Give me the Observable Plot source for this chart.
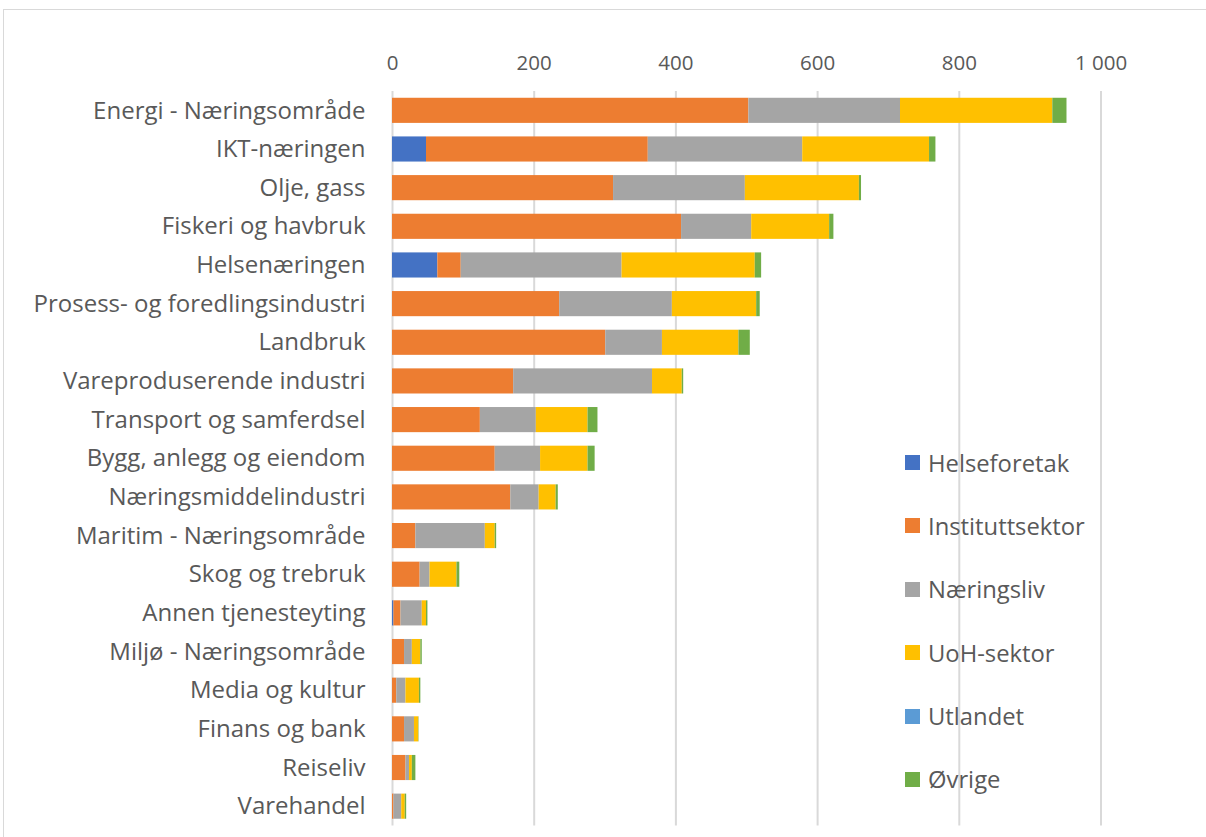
<!DOCTYPE html>
<html>
<head>
<meta charset="utf-8">
<script src="https://cdn.jsdelivr.net/npm/d3@7"></script>
<script src="https://cdn.jsdelivr.net/npm/@observablehq/plot@0.6"></script>
<style>
  html, body { margin: 0; padding: 0; background: #fff; }
  #wrap { position: relative; width: 1206px; height: 837px; overflow: hidden; }
  #frame { position: absolute; left: 3px; top: 9px; width: 1220px; height: 840px; border: 1px solid #d9d9d9; box-sizing: border-box; pointer-events: none; }
  #legend { position: absolute; left: 905px; top: 444.5px; font-family: "Open Sans", Lato, sans-serif; font-size: 23.8px; color: #595959; }
  #legend .item { display: flex; align-items: center; height: 36px; margin-bottom: 27.4px; }
  #legend .sw { width: 15px; height: 15px; margin-right: 8px; flex: none; }
</style>
</head>
<body>
<div id="wrap">
  <div id="chart"></div>
  <div id="legend"></div>
  <div id="frame"></div>
</div>
<script>
const categories = [
  "Energi - Næringsområde", "IKT-næringen", "Olje, gass", "Fiskeri og havbruk",
  "Helsenæringen", "Prosess- og foredlingsindustri", "Landbruk",
  "Vareproduserende industri", "Transport og samferdsel", "Bygg, anlegg og eiendom",
  "Næringsmiddelindustri", "Maritim - Næringsområde", "Skog og trebruk",
  "Annen tjenesteyting", "Miljø - Næringsområde", "Media og kultur",
  "Finans og bank", "Reiseliv", "Varehandel"
];
const seriesNames = ["Helseforetak", "Instituttsektor", "Næringsliv", "UoH-sektor", "Utlandet", "Øvrige"];
const seriesColors = ["#4472C4", "#ED7D31", "#A5A5A5", "#FFC000", "#5B9BD5", "#70AD47"];

const helseforetak    = [0, 48, 0, 0, 64, 0, 0, 0, 0, 0, 0, 0, 0, 2, 0, 0, 0, 0, 0];
const instituttsektor = [503, 313, 312, 408, 33, 236, 301, 171, 124, 145, 167, 33, 39, 10, 17, 6, 17, 19, 2];
const naeringsliv     = [214, 218, 186, 99, 227, 159, 80, 196, 79, 64, 40, 98, 14, 30, 11, 13, 14, 5, 11];
const uohSektor       = [215, 179, 161, 110, 188, 119, 108, 42, 73, 67, 24, 14, 38, 6, 12, 19, 6, 4, 5];
const utlandet        = [0, 0, 0, 0, 0, 0, 0, 0, 0, 0, 0, 0, 0, 0, 0, 0, 0, 0, 0];
const ovrige          = [20, 9, 3, 6, 9, 5, 16, 2, 14, 10, 3, 2, 4, 2, 2, 2, 0.5, 5, 2];

const xTicks = [0, 200, 400, 600, 800, 1000];
const xTickLabels = ["0", "200", "400", "600", "800", "1 000"];

const seriesValues = [helseforetak, instituttsektor, naeringsliv, uohSektor, utlandet, ovrige];
const rows = [];
seriesNames.forEach((s, si) => {
  categories.forEach((c, ci) => {
    rows.push({ category: c, series: s, value: seriesValues[si][ci] });
  });
});

const chart = Plot.plot({
  width: 1206,
  height: 837,
  marginLeft: 392,
  marginRight: 105.5,
  marginTop: 91,
  marginBottom: 11.5,
  style: { fontFamily: "'Open Sans', Lato, sans-serif", fontSize: "24px", color: "#595959", background: "transparent" },
  x: { domain: [0, 1000], ticks: xTicks, tickFormat: (d) => xTickLabels[xTicks.indexOf(d)], axis: "top", label: null, tickSize: 0, tickPadding: 22 },
  y: { domain: categories, label: null, tickSize: 0, tickPadding: 27, paddingInner: 0.35, paddingOuter: 0.175, round: false },
  color: { domain: seriesNames, range: seriesColors },
  marks: [
    Plot.gridX(xTicks, { stroke: "#d9d9d9", strokeWidth: 2, strokeOpacity: 1 }),
    Plot.barX(rows, Plot.stackX({ x: "value", y: "category", fill: "series", order: seriesNames, inset: 0 }))
  ]
});
chart.querySelectorAll("g[aria-label='x-axis tick label']").forEach(el => el.setAttribute("font-size", "20.5px"));
document.getElementById("chart").appendChild(chart);

const legend = document.getElementById("legend");
seriesNames.forEach((s, i) => {
  const item = document.createElement("div");
  item.className = "item";
  const sw = document.createElement("span");
  sw.className = "sw";
  sw.style.background = seriesColors[i];
  const lab = document.createElement("span");
  lab.textContent = s;
  item.appendChild(sw);
  item.appendChild(lab);
  legend.appendChild(item);
});
</script>
</body>
</html>
